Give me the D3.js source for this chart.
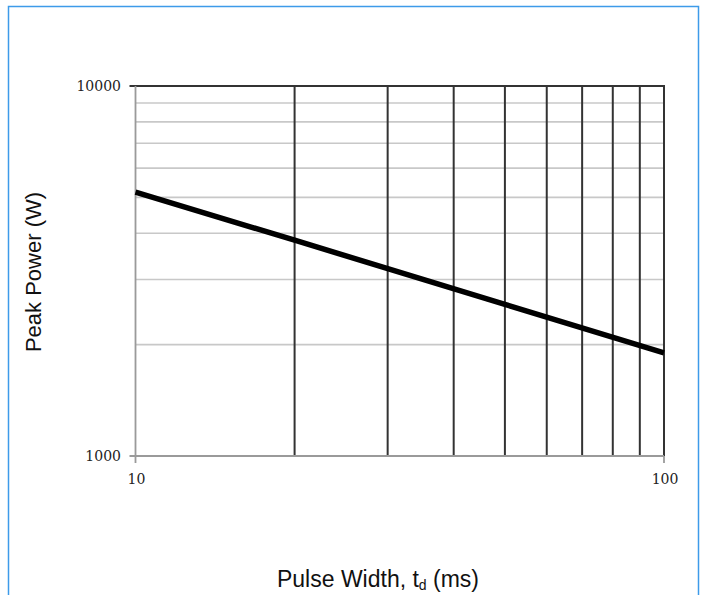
<!DOCTYPE html>
<html>
<head>
  <meta charset="utf-8">
  <script src="https://d3js.org/d3.v7.min.js"></script>
  <style>
    body {
      margin: 0px;
      background: #fff;
    }
    .tick-label {
      font-family: "DejaVu Serif", serif;
      font-size: 14px;
      fill: #222;
    }
    .axis-title {
      font-family: "Liberation Sans", Arial, sans-serif;
      font-size: 22px;
      fill: #111;
    }
</style>
</head>
<body>
<script type="text/javascript">
  // pulse width (ms) and peak power (W)
  var pulseWidth = [10, 20, 50, 100];
  var peakPower = [5170, 3830, 2570, 1900];

  var xTicks = [10, 100];
  var yTicks = [1000, 10000];
  var xGrid = [20, 30, 40, 50, 60, 70, 80, 90, 100];
  var yGrid = [2000, 3000, 4000, 5000, 6000, 7000, 8000, 9000];

  var svg = d3.select("body")
    .append("svg")
    .attr("width", 702)
    .attr("height", 595);

  // blue frame round the figure
  svg.append("rect")
    .attr("x", 8.5)
    .attr("y", 6.5)
    .attr("width", 690)
    .attr("height", 620)
    .style("fill", "none")
    .style("stroke", "#3d9be9")
    .style("stroke-width", 1.5);

  var x = d3.scaleLog().domain([10, 100]).range([135.5, 664]);
  var y = d3.scaleLog().domain([1000, 10000]).range([456, 86]);

  var g = svg.append("g");

  // light horizontal grid
  g.selectAll("line.hgrid")
    .data(yGrid)
    .enter().append("line")
    .attr("class", "hgrid")
    .attr("x1", x(10)).attr("x2", x(100))
    .attr("y1", function(d) { return y(d); })
    .attr("y2", function(d) { return y(d); })
    .style("stroke", "#c8c8c8")
    .style("stroke-width", 1.6);

  // dark vertical grid
  g.selectAll("line.vgrid")
    .data(xGrid)
    .enter().append("line")
    .attr("class", "vgrid")
    .attr("y1", y(10000)).attr("y2", y(1000))
    .attr("x1", function(d) { return x(d); })
    .attr("x2", function(d) { return x(d); })
    .style("stroke", "#333")
    .style("stroke-width", 2);

  // top border
  g.append("line")
    .attr("x1", x(10) - 6).attr("x2", x(100) + 1)
    .attr("y1", y(10000)).attr("y2", y(10000))
    .style("stroke", "#333")
    .style("stroke-width", 2);

  // axes (gray)
  g.append("line")
    .attr("x1", x(10)).attr("x2", x(10))
    .attr("y1", y(10000)).attr("y2", y(1000) + 7)
    .style("stroke", "#9a9a9a")
    .style("stroke-width", 1.8);

  g.append("line")
    .attr("x1", x(10) - 6).attr("x2", x(100))
    .attr("y1", y(1000)).attr("y2", y(1000))
    .style("stroke", "#9a9a9a")
    .style("stroke-width", 1.8);

  g.append("line")
    .attr("x1", x(100)).attr("x2", x(100))
    .attr("y1", y(1000)).attr("y2", y(1000) + 7)
    .style("stroke", "#9a9a9a")
    .style("stroke-width", 1.8);

  // tick labels
  g.selectAll("text.ylab")
    .data(yTicks)
    .enter().append("text")
    .attr("class", "tick-label ylab")
    .attr("x", 121)
    .attr("y", function(d) { return y(d) + 5; })
    .attr("text-anchor", "end")
    .text(function(d) { return d; });

  g.selectAll("text.xlab")
    .data(xTicks)
    .enter().append("text")
    .attr("class", "tick-label xlab")
    .attr("x", function(d) { return x(d) + 1; })
    .attr("y", 484)
    .attr("text-anchor", "middle")
    .text(function(d) { return d; });

  // the curve
  var line = d3.line()
    .x(function(d, i) { return x(pulseWidth[i]); })
    .y(function(d) { return y(d); });

  g.append("path")
    .datum(peakPower)
    .attr("d", line)
    .style("fill", "none")
    .style("stroke", "#000")
    .style("stroke-width", 5.5);

  // axis titles
  svg.append("text")
    .attr("class", "axis-title")
    .attr("transform", "translate(41,272) rotate(-90)")
    .attr("text-anchor", "middle")
    .text("Peak Power (W)");

  var xt = svg.append("text")
    .attr("class", "axis-title")
    .attr("x", 378)
    .attr("y", 587)
    .attr("text-anchor", "middle")
    .style("font-size", "23px");
  xt.append("tspan").text("Pulse Width, t");
  xt.append("tspan").attr("font-size", "14px").attr("dy", 3).text("d");
  xt.append("tspan").attr("dy", -3).text(" (ms)");
</script>
</body>
</html>
